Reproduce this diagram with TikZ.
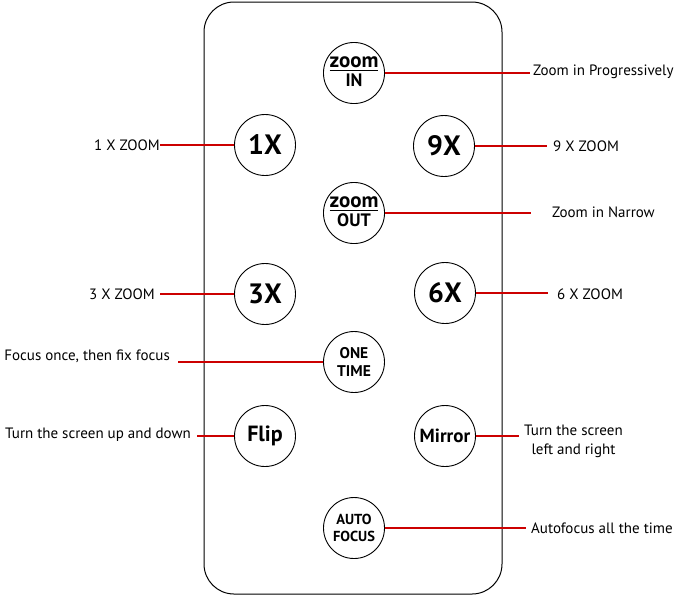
\documentclass[tikz,border=0pt]{standalone}
\usepackage{fontspec}
\setmainfont{PT Sans}
\usetikzlibrary{positioning}

% two-line button text with a rule between
\newcommand{\zfrac}[2]{\begin{tabular}{@{}c@{}}\fontsize{21}{21}\selectfont #1\\[-3pt]\hline\rule{0pt}{16pt}#2\end{tabular}}

\begin{document}
\begin{tikzpicture}[
    x=1pt, y=-1pt,
    btn/.style={circle, draw, line width=0.9pt, minimum size=61pt, inner sep=0pt, align=center, font=\bfseries\fontsize{15.5}{18.5}\selectfont},
    bigbtn/.style={btn, font=\bfseries\fontsize{28}{28}\selectfont},
    zbtn/.style={btn, font=\bfseries\fontsize{18}{18}\selectfont},
    lbl/.style={inner sep=0pt, align=center, font=\fontsize{15}{19}\selectfont},
    lead/.style={draw=red!80!black, line width=1.4pt}
]
    \useasboundingbox (0,0) rectangle (679,598);

    % remote body
    \draw[line width=1pt, rounded corners=30pt] (204,2) rectangle (502,594);

    % buttons
    \node[zbtn] (zin) at (354,73) {\zfrac{zoom}{IN}};
    \node[bigbtn] (x1) at (265,145) {1X};
    \node[bigbtn] (x9) at (444,146) {9X};
    \node[zbtn] (zout) at (354,213) {\zfrac{zoom}{OUT}};
    \node[bigbtn] (x3) at (265,294) {3X};
    \node[bigbtn] (x6) at (445,293) {6X};
    \node[btn] (once) at (354,362) {ONE\\TIME};
    \node[btn, font=\bfseries\fontsize{22}{22}\selectfont] (flip) at (265,436) {Flip};
    \node[btn, font=\bfseries\fontsize{19}{19}\selectfont] (mirror) at (445,436) {Mirror};
    \node[btn, font=\bfseries\fontsize{14.5}{16.5}\selectfont] (auto) at (354,528) {AUTO\\FOCUS};

    % labels
    \node[lbl, anchor=west] (zinl) at (533,72) {Zoom in Progressively};
    \node[lbl, anchor=east] (x1l) at (160,145) {1 X ZOOM};
    \node[lbl, anchor=west] (x9l) at (553,146) {9 X ZOOM};
    \node[lbl, anchor=west] (zoutl) at (552,212) {Zoom in Narrow};
    \node[lbl, anchor=east] (x3l) at (155,294) {3 X ZOOM};
    \node[lbl, anchor=west] (x6l) at (557,294) {6 X ZOOM};
    \node[lbl, anchor=east] (oncel) at (170,356) {Focus once, then fix focus};
    \node[lbl, anchor=east] (flipl) at (191,435) {Turn the screen up and down};
    \node[lbl, anchor=west] (mirrorl) at (524,441) {Turn the screen\\left and right};
    \node[lbl, anchor=west] (autol) at (531,528) {Autofocus all the time};

    % leader lines
    \draw[lead, shorten >=3pt] (zin) -- (zin -| zinl.west);
    \draw[lead] (x1) -- (x1 -| x1l.east);
    \draw[lead, shorten >=6pt] (x9) -- (x9 -| x9l.west);
    \draw[lead, shorten >=21pt] (zout) -- (zout -| zoutl.west);
    \draw[lead, shorten >=5pt] (x3) -- (x3 -| x3l.east);
    \draw[lead, shorten >=9pt] (x6) -- (x6 -| x6l.west);
    \draw[lead, shorten >=8pt] (once) -- (once -| oncel.east);
    \draw[lead, shorten >=6pt] (flip) -- (flip -| flipl.east);
    \draw[lead, shorten >=5pt] (mirror) -- (mirror -| mirrorl.west);
    \draw[lead, shorten >=5pt] (auto) -- (auto -| autol.west);
\end{tikzpicture}
\end{document}
